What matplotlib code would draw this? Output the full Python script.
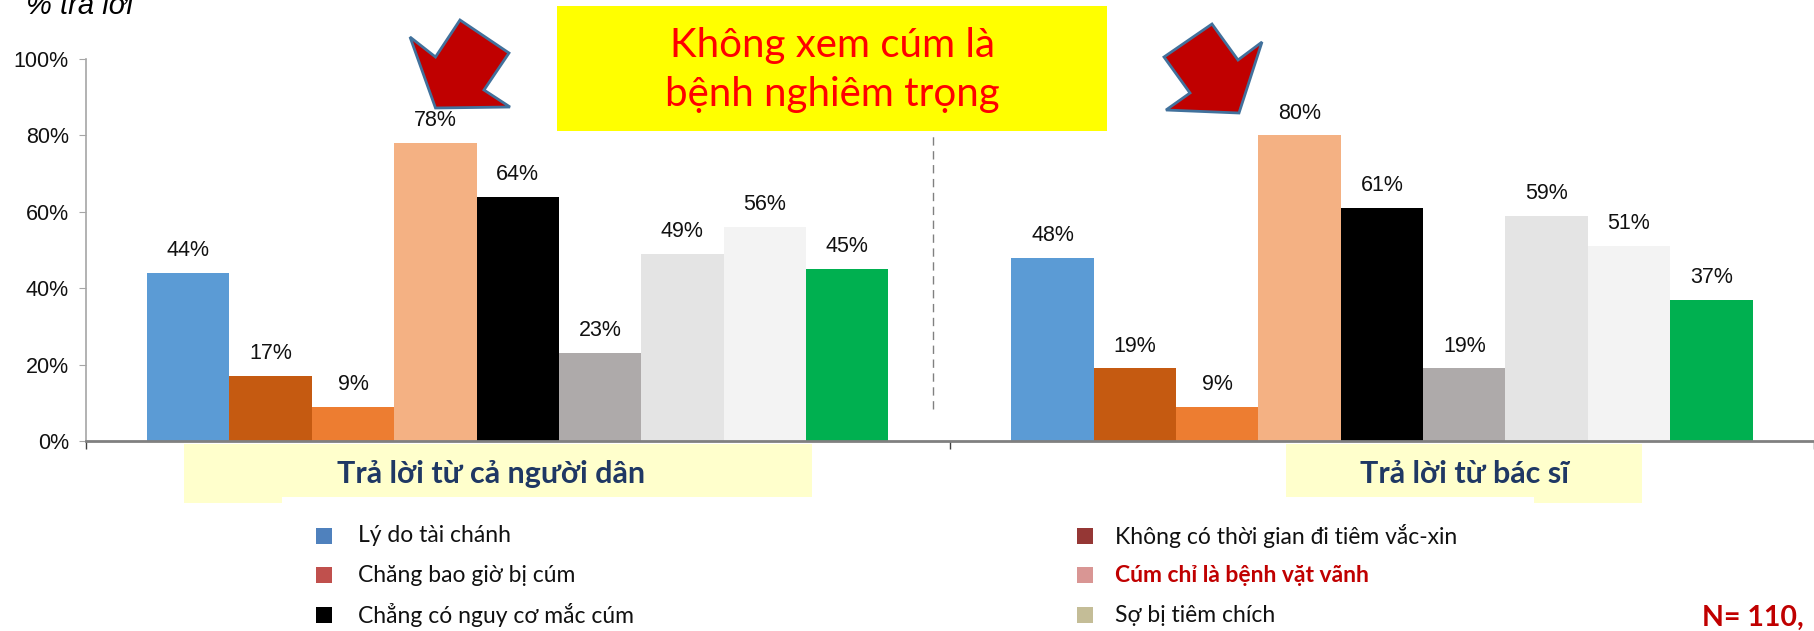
import numpy as np
import matplotlib
matplotlib.use("Agg")
import matplotlib.pyplot as plt
from matplotlib.patches import Rectangle, Polygon

# ── Data ──────────────────────────────────────────────────────────────────────
groups = ["Trả lời từ cả người dân", "Trả lời từ bác sĩ"]
people_pct = [44, 17, 9, 78, 64, 23, 49, 56, 45]
doctor_pct = [48, 19, 9, 80, 61, 19, 59, 51, 37]
bar_colors = ["#5B9BD5", "#C55A11", "#ED7D31", "#F4B183", "#000000",
              "#AEAAAA", "#E4E4E4", "#F3F3F3", "#00B050"]

legend_left = ["Lý do tài chánh", "Chăng bao giờ bị cúm", "Chẳng có nguy cơ mắc cúm"]
legend_left_colors = ["#4F81BD", "#C0504D", "#000000"]
legend_right = ["Không có thời gian đi tiêm vắc-xin", "Cúm chỉ là bệnh vặt vãnh",
                "Sợ bị tiêm chích"]
legend_right_colors = ["#953735", "#D99694", "#C4BD97"]
highlight = "Cúm chỉ là bệnh vặt vãnh"

W, H = 1814, 631
CAL = ["Lato", "Noto Sans", "DejaVu Sans"]
ARIAL = ["Liberation Sans", "DejaVu Sans"]


def fx(x):
    return x / W


def fy(y):
    return 1 - y / H


fig = plt.figure(figsize=(W / 100, H / 100), dpi=100)

# ── Axes ──────────────────────────────────────────────────────────────────────
ax_left, ax_bottom = 85.6, 441
ax = fig.add_axes([fx(ax_left), fy(ax_bottom), 1 - fx(ax_left), 382 / H])
ax.set_xlim(-0.5, -0.5 + (W - ax_left) / 867.5)
ax.set_ylim(0, 100)

w = 0.0953
offsets = (np.arange(len(people_pct)) - 4) * w
for gi, vals in enumerate([people_pct, doctor_pct]):
    xs = gi + offsets
    ax.bar(xs, vals, width=w, color=bar_colors, edgecolor="none", zorder=2)
    for x, v in zip(xs, vals):
        ax.annotate(f"{v}%", (x, v), xytext=(0, 16), textcoords="offset points",
                    ha="center", va="center", fontsize=15.5, family=ARIAL,
                    color="#111111")

ax.set_yticks(range(0, 101, 20))
ax.set_yticklabels([f"{t}%" for t in range(0, 101, 20)], family=ARIAL,
                   fontsize=15.5, color="#111111")
ax.tick_params(axis="y", direction="out", length=5, color="#A6A6A6", pad=7)
ax.set_xticks([-0.5, 0.5, 1.5])
ax.set_xticklabels([])
ax.tick_params(axis="x", direction="out", length=6, color="#404040", width=1)
for s in ["top", "right"]:
    ax.spines[s].set_visible(False)
ax.spines["left"].set_color("#A6A6A6")
ax.spines["left"].set_linewidth(1.2)
ax.spines["bottom"].set_color("#808080")
ax.spines["bottom"].set_linewidth(2)
ax.patch.set_alpha(0)

# dashed separator between groups
ax.plot([0.48, 0.48], [8.4, 80.6], ls=(0, (6, 4)), color="#808080", lw=1, zorder=1)

# ── Top-left axis title (partly cut off at the top, as in the source) ────────
fig.text(fx(26), fy(14), "% trả lời", fontsize=21, style="italic",
         family=ARIAL, va="baseline", ha="left")

# ── Yellow callout ────────────────────────────────────────────────────────────
fig.patches.append(Rectangle((fx(557), fy(131)), (1107 - 557) / W, 125 / H,
                             transform=fig.transFigure, facecolor="#FFFF00",
                             edgecolor="none", zorder=3))
fig.text(fx(832), fy(70), "Không xem cúm là\nbệnh nghiêm trọng", fontsize=29,
         family=CAL, color="#FF0000", ha="center", va="center",
         linespacing=1.4, zorder=4)

# ── Red block arrows ─────────────────────────────────────────────────────────
arrow_l = [(410, 37), (435.5, 57), (460, 20), (509, 53), (484, 90),
           (510, 107), (435.5, 108)]
arrow_r = [(1164, 57), (1212, 24), (1238, 60), (1262, 42), (1239, 113),
           (1166, 110), (1190, 93)]
for pts in (arrow_l, arrow_r):
    fig.patches.append(Polygon([(fx(x), fy(y)) for x, y in pts], closed=True,
                               transform=fig.transFigure, facecolor="#C00000",
                               edgecolor="#41719C", linewidth=2, zorder=5))

# ── Group label boxes ─────────────────────────────────────────────────────────
for (x0, x1, tx0, tx1), label, cx in [((184, 812, 184, 282), groups[0], 491),
                                      ((1286, 1642, 1534, 1642), groups[1], 1465)]:
    fig.patches.append(Rectangle((fx(x0), fy(497)), (x1 - x0) / W, 53 / H,
                                 transform=fig.transFigure, facecolor="#FFFFCC",
                                 edgecolor="none", zorder=1))
    fig.patches.append(Rectangle((fx(tx0), fy(503)), (tx1 - tx0) / W, 8 / H,
                                 transform=fig.transFigure, facecolor="#FFFFCC",
                                 edgecolor="none", zorder=1))
    fig.text(fx(cx), fy(474), label, fontsize=22, fontweight="bold", family=CAL,
             color="#1F3864", ha="center", va="center", zorder=2)

# ── Legend ────────────────────────────────────────────────────────────────────
row_y = [536, 575, 615]
for labels, colors, sq_x, tx in [(legend_left, legend_left_colors, 316, 358),
                                 (legend_right, legend_right_colors, 1077, 1115)]:
    for i, (lab, col) in enumerate(zip(labels, colors)):
        fig.patches.append(Rectangle((fx(sq_x), fy(row_y[i] + 8)), 16 / W, 16 / H,
                                     transform=fig.transFigure, facecolor=col,
                                     edgecolor="none"))
        bold = lab == highlight
        fig.text(fx(tx), fy(row_y[i]), lab, fontsize=16.5, family=CAL,
                 fontweight="bold" if bold else "normal",
                 color="#C00000" if bold else "#111111", ha="left", va="center")

fig.text(fx(1702), fy(618), "N= 110,", fontsize=20.5, fontweight="bold", family=CAL,
         color="#C00000", ha="left", va="center")

fig.savefig("out.png", dpi=100, facecolor="white")
